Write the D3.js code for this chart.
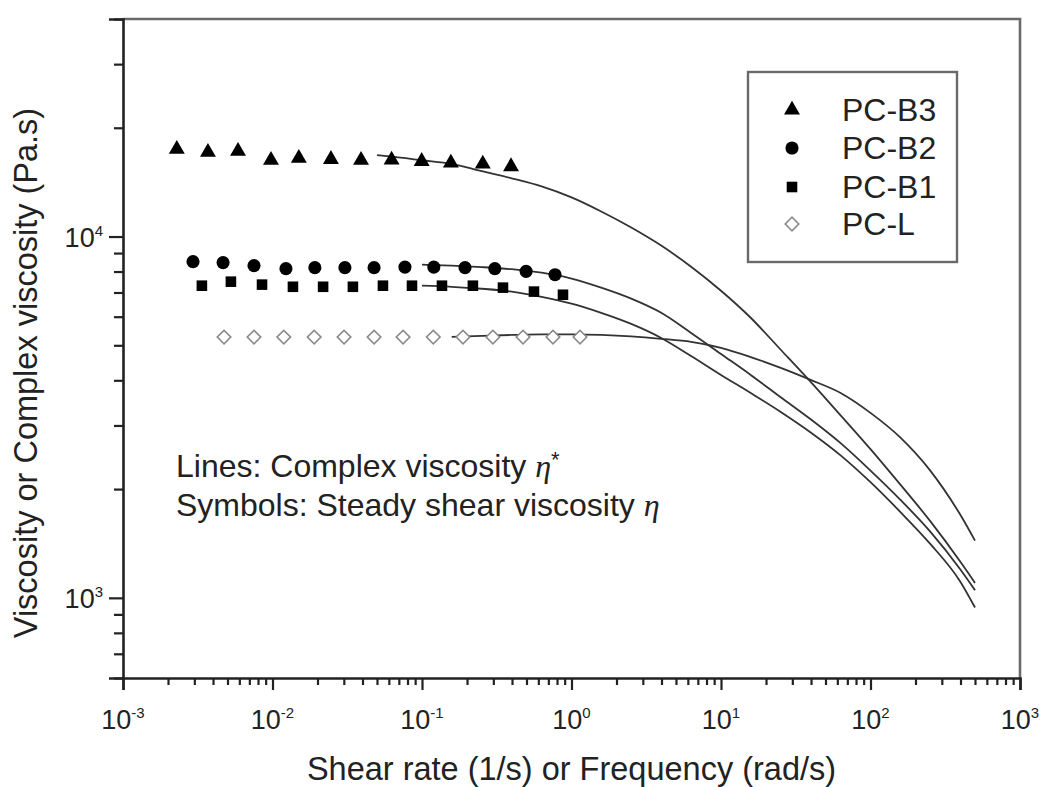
<!DOCTYPE html>
<html>
<head>
<meta charset="utf-8">
<script src="https://cdn.jsdelivr.net/npm/d3@7/dist/d3.min.js"></script>
<style>
  body { margin: 0; background: #fff; }
  svg { display: block; font-family: "Liberation Sans", Arial, Helvetica, sans-serif; }
</style>
</head>
<body>
<div id="chart"></div>
<script>
// Steady shear viscosity (symbols)
var b3Rate = [0.00229, 0.0037, 0.00588, 0.00977, 0.015, 0.0246, 0.0391, 0.0626, 0.0995, 0.156, 0.255, 0.394];
var b3Visc = [17450, 17110, 17220, 16260, 16470, 16360, 16260, 16290, 16150, 15990, 15880, 15620];

var b2Rate = [0.00294, 0.00467, 0.00752, 0.0123, 0.0192, 0.0305, 0.0478, 0.0769, 0.120, 0.194, 0.307, 0.497, 0.776];
var b2Visc = [8520, 8470, 8310, 8150, 8200, 8200, 8200, 8230, 8230, 8200, 8150, 8010, 7840];

var b1Rate = [0.00337, 0.00527, 0.00851, 0.0137, 0.0218, 0.0345, 0.0548, 0.0857, 0.136, 0.219, 0.348, 0.561, 0.877];
var b1Visc = [7310, 7500, 7360, 7260, 7260, 7260, 7310, 7310, 7310, 7310, 7220, 7040, 6900];

var lRate = [0.00474, 0.00752, 0.0119, 0.019, 0.0301, 0.0478, 0.0747, 0.119, 0.188, 0.298, 0.474, 0.752, 1.14];
var lVisc = [5270, 5270, 5270, 5270, 5270, 5270, 5270, 5270, 5270, 5270, 5270, 5270, 5270];

// Complex viscosity (lines) from the frequency sweeps
var freqB3 = [0.05, 0.063, 0.1, 0.158, 0.251, 0.398, 0.631, 1, 1.58, 2.51, 3.98, 6.31, 10, 15.8, 25.1, 39.8, 63.1, 100, 158, 251, 398, 500];
var etaB3 = [16790, 16630, 16260, 15900, 15160, 14490, 13760, 12830, 11730, 10590, 9440, 8250, 7080, 5960, 4860, 3960, 3200, 2580, 2060, 1630, 1260, 1100];

var freqB = [0.1, 0.158, 0.251, 0.398, 0.631, 1, 1.58, 2.51, 3.98, 6.31, 10, 15.8, 25.1, 39.8, 63.1, 100, 158, 251, 398, 500];
var etaB2 = [8360, 8310, 8230, 8120, 7940, 7650, 7220, 6730, 6150, 5410, 4730, 4140, 3590, 3120, 2680, 2250, 1870, 1525, 1200, 1050];
var etaB1 = [7310, 7260, 7170, 7040, 6810, 6520, 6150, 5730, 5240, 4670, 4140, 3690, 3270, 2870, 2480, 2090, 1730, 1410, 1110, 940];

var freqL = [0.158, 0.251, 0.398, 0.631, 1, 1.58, 2.51, 3.98, 6.31, 10, 15.8, 25.1, 39.8, 63.1, 100, 158, 251, 398, 500];
var etaL = [5275, 5310, 5340, 5360, 5360, 5340, 5290, 5210, 5110, 4920, 4640, 4330, 4010, 3690, 3250, 2780, 2250, 1700, 1440];

var legendNames = ["PC-B3", "PC-B2", "PC-B1", "PC-L"];
var xMajor = [1e-3, 1e-2, 1e-1, 1e0, 1e1, 1e2, 1e3];
var xExp = ["-3", "-2", "-1", "0", "1", "2", "3"];
var yMajor = [1e3, 1e4];
var yExp = ["3", "4"];

var width = 1043, height = 787;
var margin = {left: 123, right: 1020, top: 19, bottom: 678};

var x = d3.scaleLog().domain([1e-3, 1e3]).range([margin.left, margin.right]);
var y = d3.scaleLog().domain([600, 40000]).range([margin.bottom, margin.top]);

var svg = d3.select("#chart").append("svg")
    .attr("width", width)
    .attr("height", height);

function zip(a, b) { return a.map(function(v, i) { return [v, b[i]]; }); }

var series = [
  {name: "PC-B3", pts: zip(b3Rate, b3Visc), line: zip(freqB3, etaB3), type: "tri"},
  {name: "PC-B2", pts: zip(b2Rate, b2Visc), line: zip(freqB, etaB2), type: "circ"},
  {name: "PC-B1", pts: zip(b1Rate, b1Visc), line: zip(freqB, etaB1), type: "sq"},
  {name: "PC-L",  pts: zip(lRate, lVisc),   line: zip(freqL, etaL),   type: "dia"}
];

function symbolPath(type) {
  if (type === "tri") return d3.symbol().type(d3.symbolTriangle).size(110)();
  if (type === "circ") return d3.symbol().type(d3.symbolCircle).size(135)();
  if (type === "sq") return d3.symbol().type(d3.symbolSquare).size(112)();
  return d3.symbol().type(d3.symbolSquare).size(92)();
}

function drawMarker(g, type, cx, cy) {
  var p = g.append("path")
      .attr("d", symbolPath(type))
      .attr("transform", "translate(" + cx + "," + cy + ")" + (type === "dia" ? "rotate(45)" : ""));
  if (type === "dia") {
    p.attr("fill", "#fff").attr("stroke", "#8a8a8a").attr("stroke-width", 1.6);
  } else {
    p.attr("fill", "#000");
  }
}

// complex viscosity lines
var line = d3.line()
    .x(function(d) { return x(d[0]); })
    .y(function(d) { return y(d[1]); })
    .curve(d3.curveMonotoneX);

svg.append("g").selectAll("path")
    .data(series)
  .enter().append("path")
    .attr("d", function(d) { return line(d.line); })
    .attr("fill", "none")
    .attr("stroke", "#333")
    .attr("stroke-width", 1.8);

// steady shear symbols
series.forEach(function(s) {
  var g = svg.append("g");
  s.pts.forEach(function(p) { drawMarker(g, s.type, x(p[0]), y(p[1])); });
});

// frame: top and right
svg.append("path")
    .attr("d", "M" + margin.left + "," + margin.top + "H" + margin.right + "V" + margin.bottom)
    .attr("fill", "none")
    .attr("stroke", "#6a6a6a")
    .attr("stroke-width", 2.6);

// x axis
var xMinor = x.ticks().filter(function(t) { return xMajor.indexOf(t) < 0; });
svg.append("g")
    .attr("transform", "translate(0," + margin.bottom + ")")
    .call(d3.axisBottom(x).tickValues(xMinor).tickSize(7).tickFormat(""))
    .call(function(g) { g.select(".domain").remove(); });
var xAxis = svg.append("g")
    .attr("transform", "translate(0," + margin.bottom + ")")
    .call(d3.axisBottom(x).tickValues(xMajor).tickSize(12).tickFormat(""));
xAxis.select(".domain").attr("stroke-width", 2.6).attr("stroke", "#222");

// y axis
var yMinor = y.ticks().filter(function(t) { return yMajor.indexOf(t) < 0; });
svg.append("g")
    .attr("transform", "translate(" + margin.left + ",0)")
    .call(d3.axisLeft(y).tickValues(yMinor).tickSize(9).tickFormat(""))
    .call(function(g) { g.select(".domain").remove(); });
var yAxis = svg.append("g")
    .attr("transform", "translate(" + margin.left + ",0)")
    .call(d3.axisLeft(y).tickValues(yMajor).tickSize(14).tickFormat(""));
yAxis.select(".domain").attr("stroke-width", 2.6).attr("stroke", "#222");
svg.selectAll(".tick line").attr("stroke", "#222").attr("stroke-width", 2.2);

// power-of-ten labels
xMajor.forEach(function(v, i) {
  var t = svg.append("text")
      .attr("x", x(v))
      .attr("y", 729)
      .attr("text-anchor", "middle")
      .attr("font-size", 27)
      .attr("fill", "#222");
  t.append("tspan").text("10");
  t.append("tspan").attr("dy", -11).attr("font-size", 15).text(xExp[i]);
});
yMajor.forEach(function(v, i) {
  var t = svg.append("text")
      .attr("x", 103)
      .attr("y", y(v) + 10)
      .attr("text-anchor", "end")
      .attr("font-size", 27)
      .attr("fill", "#222");
  t.append("tspan").text("10");
  t.append("tspan").attr("dy", -11).attr("font-size", 15).text(yExp[i]);
});

// axis titles
svg.append("text")
    .attr("x", (margin.left + margin.right) / 2)
    .attr("y", 780)
    .attr("text-anchor", "middle")
    .attr("font-size", 32.5)
    .attr("fill", "#222")
    .text("Shear rate (1/s) or Frequency (rad/s)");

svg.append("text")
    .attr("transform", "translate(37,373)rotate(-90)")
    .attr("text-anchor", "middle")
    .attr("font-size", 32.5)
    .attr("fill", "#222")
    .text("Viscosity or Complex viscosity (Pa.s)");

// legend
var lg = svg.append("g");
lg.append("rect")
    .attr("x", 748).attr("y", 72)
    .attr("width", 209).attr("height", 190)
    .attr("fill", "#fff")
    .attr("stroke", "#6a6a6a")
    .attr("stroke-width", 2.4);
var rowY = [110, 148, 187, 224];
series.forEach(function(s, i) {
  drawMarker(lg, s.type, 792, rowY[i]);
  lg.append("text")
      .attr("x", 842)
      .attr("y", rowY[i] + 11)
      .attr("font-size", 32)
      .attr("fill", "#222")
      .text(legendNames[i]);
});

// note
var n1 = svg.append("text").attr("x", 176).attr("y", 477).attr("font-size", 32).attr("fill", "#222");
n1.append("tspan").text("Lines: Complex viscosity ");
n1.append("tspan").attr("font-family", "'Liberation Serif', 'DejaVu Serif', serif").attr("font-style", "italic").text("\u03B7");
n1.append("tspan").attr("dy", -10).attr("font-size", 22).text("*");

var n2 = svg.append("text").attr("x", 176).attr("y", 516).attr("font-size", 32).attr("fill", "#222");
n2.append("tspan").text("Symbols: Steady shear viscosity ");
n2.append("tspan").attr("font-family", "'Liberation Serif', 'DejaVu Serif', serif").attr("font-style", "italic").text("\u03B7");
</script>
</body>
</html>
